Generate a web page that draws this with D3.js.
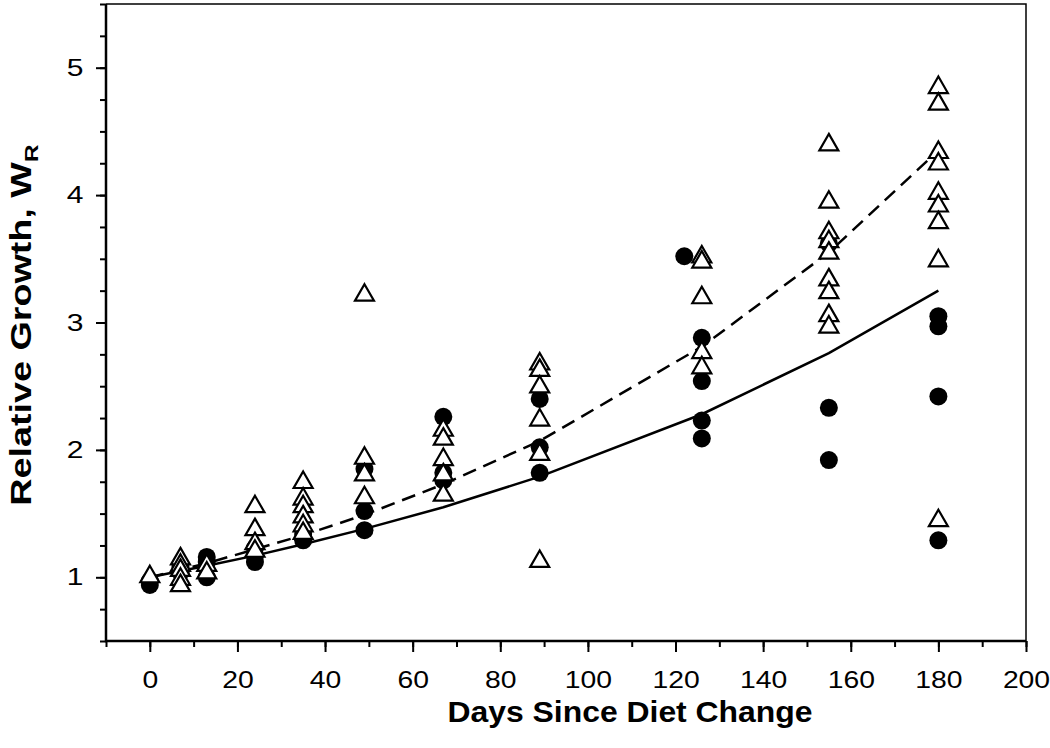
<!DOCTYPE html>
<meta charset="utf-8">
<style>
body { margin: 0; background: #fff; }
text { font-family: "Liberation Sans", Arial, sans-serif; fill: #000; }
</style>
<svg width="1050" height="748"></svg>
<script src="https://d3js.org/d3.v7.min.js"></script>
<script>

// filled circles: [day, W_R]
var filledPts = [
  [0, 0.94], [0, 0.97],
  [7, 1.08], [7, 1.04],
  [13, 1.16], [13, 1.12], [13, 1.0],
  [24, 1.23], [24, 1.17], [24, 1.12],
  [35, 1.34], [35, 1.29],
  [49, 1.85], [49, 1.52], [49, 1.37],
  [67, 2.26], [67, 1.82], [67, 1.76],
  [89, 2.40], [89, 2.02], [89, 1.82],
  [122, 3.52],
  [126, 2.88], [126, 2.54], [126, 2.23], [126, 2.09],
  [155, 3.62], [155, 2.33], [155, 1.92],
  [180, 3.05], [180, 2.97], [180, 2.42], [180, 1.29]
];

// open triangles: [day, W_R]
var openPts = [
  [0, 1.02],
  [7, 1.16], [7, 1.11], [7, 1.07], [7, 1.0], [7, 0.95],
  [13, 1.11], [13, 1.05],
  [24, 1.57], [24, 1.39], [24, 1.28], [24, 1.22],
  [35, 1.76], [35, 1.63], [35, 1.57], [35, 1.49], [35, 1.42], [35, 1.36],
  [49, 3.23], [49, 1.95], [49, 1.82], [49, 1.64],
  [67, 2.17], [67, 2.10], [67, 1.94], [67, 1.82], [67, 1.66],
  [89, 2.69], [89, 2.64], [89, 2.51], [89, 2.25], [89, 1.98], [89, 1.14],
  [126, 3.53], [126, 3.49], [126, 3.21], [126, 2.78], [126, 2.66],
  [155, 4.41], [155, 3.96], [155, 3.72], [155, 3.65], [155, 3.56], [155, 3.35], [155, 3.25], [155, 3.07], [155, 2.98],
  [180, 4.86], [180, 4.73], [180, 4.35], [180, 4.26], [180, 4.03], [180, 3.93], [180, 3.80], [180, 3.50], [180, 1.46]
];

// fitted curves
var fitDays   = [0, 7, 13, 24, 35, 49, 67, 89, 126, 155, 180];
var solidFit  = [1.00, 1.05, 1.09, 1.17, 1.26, 1.38, 1.55, 1.79, 2.28, 2.76, 3.25];
var dashedFit = [1.00, 1.06, 1.11, 1.22, 1.33, 1.49, 1.73, 2.07, 2.81, 3.55, 4.35];

var xTicks = [0, 20, 40, 60, 80, 100, 120, 140, 160, 180, 200];
var yTicks = [1, 2, 3, 4, 5];

var svg = d3.select("svg");
var plotL = 106, plotR = 1026, plotT = 4, plotB = 641;

var x = d3.scaleLinear().domain([-10, 200]).range([plotL, plotR]);
var y = d3.scaleLinear().domain([0.5, 5.5]).range([plotB, plotT]);

// frame (top/right thin)
svg.append("path")
    .attr("d", "M" + plotL + "," + plotT + "H" + plotR + "V" + plotB)
    .attr("fill", "none")
    .attr("stroke", "#000")
    .attr("stroke-width", 1.5);

// minor + major ticks
var gx = svg.append("g").attr("transform", "translate(0," + plotB + ")");
gx.call(d3.axisBottom(x).tickValues(d3.range(-10, 201, 10)).tickSize(6).tickFormat(""))
  .select(".domain").remove();
gx.selectAll("line").attr("stroke-width", 2);
var gx2 = svg.append("g").attr("transform", "translate(0," + plotB + ")");
gx2.call(d3.axisBottom(x).tickValues(xTicks).tickSize(11).tickPadding(19).tickFormat(d3.format("d")))
  .select(".domain").remove();
gx2.selectAll("line").attr("stroke-width", 2);
gx2.selectAll("text").attr("font-size", 24).attr("transform", "scale(1.18,1)");

var gy = svg.append("g").attr("transform", "translate(" + plotL + ",0)");
gy.call(d3.axisLeft(y).tickValues(d3.range(0.5, 5.51, 0.25)).tickSize(6).tickFormat(""))
  .select(".domain").remove();
gy.selectAll("line").attr("stroke-width", 2);
var gy2 = svg.append("g").attr("transform", "translate(" + plotL + ",0)");
gy2.call(d3.axisLeft(y).tickValues(yTicks).tickSize(10).tickPadding(8).tickFormat(d3.format("d")))
  .select(".domain").remove();
gy2.selectAll("line").attr("stroke-width", 2);
gy2.selectAll("text").attr("font-size", 24).attr("transform", "scale(1.25,1)");

// left and bottom axis lines
svg.append("path")
    .attr("d", "M" + plotL + "," + plotT + "V" + plotB + "H" + plotR)
    .attr("fill", "none")
    .attr("stroke", "#000")
    .attr("stroke-width", 2.5);

// fit lines
var line = d3.line()
    .x(function(d) { return x(d[0]); })
    .y(function(d) { return y(d[1]); });

svg.append("path")
    .datum(fitDays.map(function(d, i) { return [d, solidFit[i]]; }))
    .attr("fill", "none")
    .attr("stroke", "#000")
    .attr("stroke-width", 2.5)
    .attr("d", line);

svg.append("path")
    .datum(fitDays.map(function(d, i) { return [d, dashedFit[i]]; }))
    .attr("fill", "none")
    .attr("stroke", "#000")
    .attr("stroke-width", 2.5)
    .attr("stroke-dasharray", "14,8")
    .attr("d", line);

// points
svg.append("g").selectAll("circle")
  .data(filledPts)
  .enter().append("circle")
    .attr("cx", function(d) { return x(d[0]); })
    .attr("cy", function(d) { return y(d[1]); })
    .attr("r", 9)
    .attr("fill", "#000");

function tri(d) {
  var cx = x(d[0]), cy = y(d[1]);
  return "M" + cx + "," + (cy - 9) + "L" + (cx + 9.5) + "," + (cy + 7.5) + "L" + (cx - 9.5) + "," + (cy + 7.5) + "Z";
}

svg.append("g").selectAll("path")
  .data(openPts)
  .enter().append("path")
    .attr("d", tri)
    .attr("fill", "#fff")
    .attr("stroke", "#000")
    .attr("stroke-width", 2.2)
    .attr("stroke-linejoin", "miter");

// axis titles
svg.append("text")
    .attr("transform", "translate(630,722) scale(1.1,1)")
    .attr("text-anchor", "middle")
    .attr("font-size", 29)
    .attr("font-weight", "bold")
    .text("Days Since Diet Change");

var yl = svg.append("text")
    .attr("transform", "translate(31,325) rotate(-90) scale(1.3,1)")
    .attr("text-anchor", "middle")
    .attr("font-size", 29)
    .attr("font-weight", "bold");
yl.append("tspan").text("Relative Growth, W");
yl.append("tspan").attr("font-size", 19).attr("dy", 7).text("R");

</script>
